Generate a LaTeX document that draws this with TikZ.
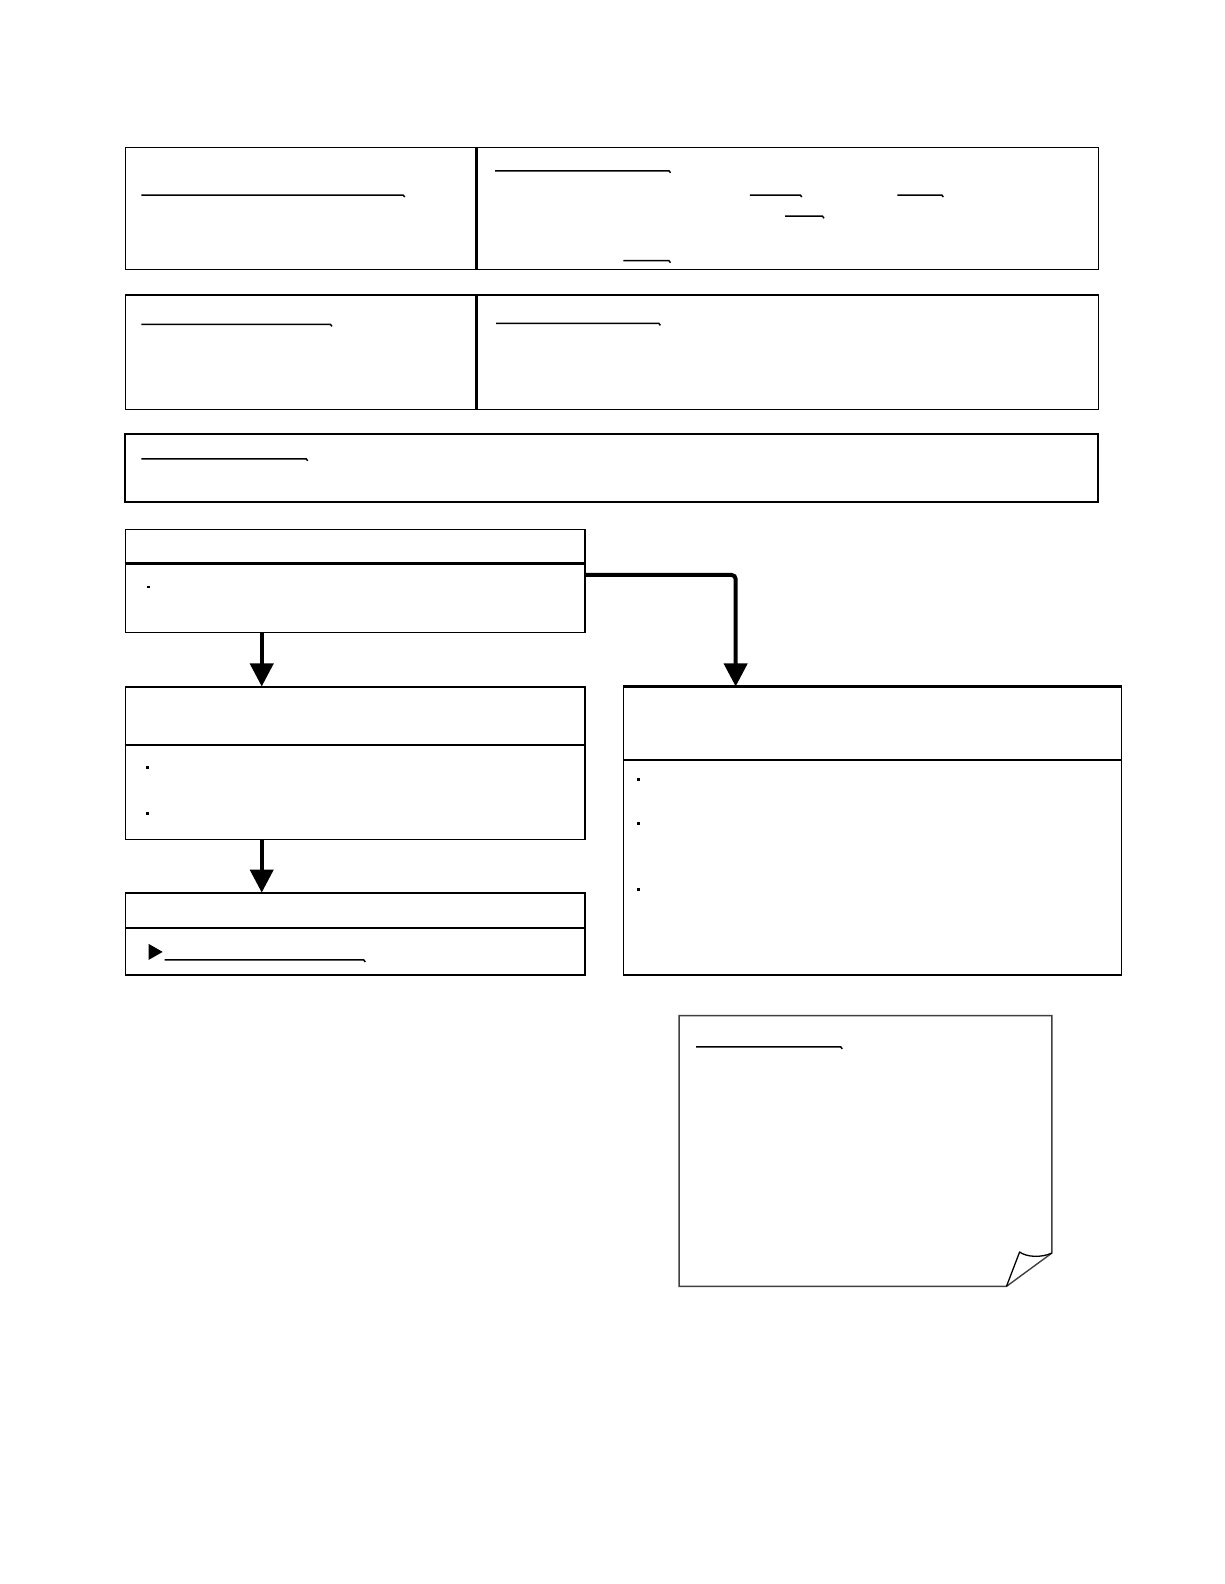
\documentclass[tikz,border=0pt]{standalone}
\usetikzlibrary{arrows.meta,fit}
\begin{document}
\begin{tikzpicture}[x=1.0105pt,y=-1.0105pt,
  box/.style={draw,line width=1.3pt,inner sep=0pt,rectangle},
  divider/.style={line width=2.8pt},
  uline/.style={line width=1.5pt,line cap=butt},
  flow/.style={line width=4pt,-{Triangle[length=23pt,width=23pt]}},
  bulletsq/.style={fill=black,draw=none,inner sep=0pt,minimum size=3pt,rectangle},
  notebox/.style={draw=black!75,line width=1.4pt,line join=miter}]
\useasboundingbox (0pt,0pt) rectangle (1224pt,-1584pt);
\fill[white] (0pt,0pt) rectangle (1224pt,-1584pt);

% row 1
\node[box,fit={(124,146) (471,267)}] (r1l) {};
\node[box,fit={(471,146) (1087,267)}] (r1r) {};
\draw[divider] (r1l.north east) -- (r1l.south east);
\draw[uline] (140,193) -- (399,193) -- ++(1.5,2);
\draw[uline] (490,169) -- (662,169) -- ++(1.5,2);
\draw[uline] (742,193) -- (792,193) -- ++(1.5,2);
\draw[uline] (888,193) -- (932,193) -- ++(1.5,2);
\draw[uline] (777,214) -- (814,214) -- ++(1.5,2);
\draw[uline] (617,258) -- (662,258) -- ++(1.5,2);

% row 2
\node[box,fit={(124,292) (471,405)}] (r2l) {};
\node[box,fit={(471,292) (1087,405)}] (r2r) {};
\draw[divider] (r2l.north east) -- (r2l.south east);
\draw[uline] (140,321) -- (327,321) -- ++(1.5,2);
\draw[uline] (491,320) -- (652,320) -- ++(1.5,2);

% row 3
\node[box,line width=2pt,fit={(124,429) (1087,497)}] (r3) {};
\draw[uline] (140,454) -- (303,454) -- ++(1.5,2);

% box A
\node[box,fit={(124,524) (579,626)}] (A) {};
\draw[divider] (A.west |- 0,558) -- (A.east |- 0,558);
\node[bulletsq,minimum size=2.2pt] (a1) at (147,581) {};

% box B
\node[box,fit={(124,680) (579,831)}] (B) {};
\draw[line width=2pt] (B.west |- 0,737) -- (B.east |- 0,737);
\node[bulletsq] (b1) at (146,760) {};
\node[bulletsq] (b2) at (146,805) {};

% box D
\node[box,fit={(124,884) (579,965)}] (D) {};
\draw[line width=2pt] (D.north west) -- (D.north east);
\draw[line width=2pt] (D.west |- 0,918) -- (D.east |- 0,918);
\node[fill=black,draw=none,inner sep=0pt] (dtri) at (154,942) {};
\fill (147,934) -- (161,942) -- (147,950) -- cycle;
\draw[uline] (163,950) -- (360,950) -- ++(1.5,2);

% box C
\node[box,fit={(617,680) (1110,965)}] (C) {};
\draw[line width=2.2pt] (C.north west) -- (C.north east);
\draw[line width=2.4pt] (C.west |- 0,752) -- (C.east |- 0,752);
\node[bulletsq] (c1) at (632,771) {};
\node[bulletsq] (c2) at (632,815) {};
\node[bulletsq] (c3) at (632,880) {};

% connectors
\coordinate (xl) at (259,0);
\coordinate (xr) at (728,0);
\coordinate (ya) at (0,569);
\draw[flow] (A.south -| xl) -- (B.north -| xl);
\draw[flow] (B.south -| xl) -- (D.north -| xl);
\draw[flow,rounded corners=4pt] (A.east |- ya) -- (xr |- ya) -- (C.north -| xr);

% note with folded corner
\draw[notebox] (672,1005) -- (1041,1005) -- (1041,1240) -- (996,1273) -- (672,1273) -- cycle;
\draw[line width=1.3pt,line join=round] (1041,1240) .. controls (1030,1245) and (1016,1244) .. (1009,1239) -- (996,1273);
\draw[uline] (689,1036) -- (832,1036) -- ++(1.5,2);
\end{tikzpicture}
\end{document}
